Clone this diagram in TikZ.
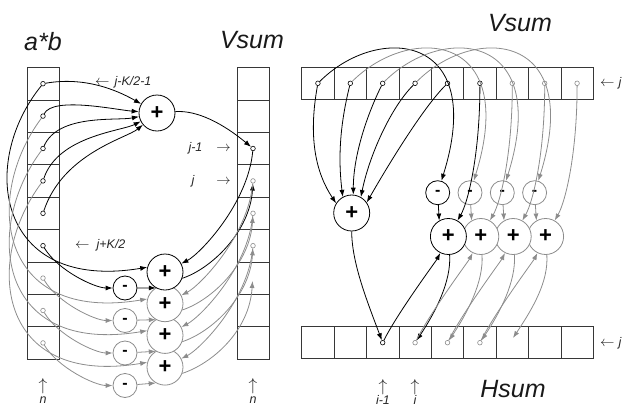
\documentclass[tikz,border=0pt]{standalone}
\usepackage{fontspec}
\setmainfont{Liberation Sans}
\usetikzlibrary{arrows.meta}
\definecolor{lgray}{RGB}{140,140,140}
\definecolor{boxc}{RGB}{55,55,55}
\newcommand{\larr}{{\fontsize{14}{14}\selectfont$\leftarrow$}}
\newcommand{\rarr}{{\fontsize{14}{14}\selectfont$\rightarrow$}}
\newcommand{\uarr}{{\fontsize{17}{17}\selectfont$\uparrow$}}
\tikzset{
  blk/.style={draw=black, line width=0.8pt, -{Latex[length=7pt,width=5pt]}},
  gry/.style={draw=lgray, line width=0.8pt, -{Latex[length=7pt,width=5pt]}},
  dotb/.style={circle, draw=black, fill=white, line width=0.6pt, inner sep=0pt, minimum size=4.6pt},
  dotg/.style={dotb, draw=lgray},
  plusb/.style={circle, draw=black, fill=white, line width=0.8pt, inner sep=0pt, minimum size=36pt, font=\fontsize{22}{22}\selectfont\bfseries},
  plusg/.style={plusb, draw=lgray},
  minusb/.style={circle, draw=black, fill=white, line width=0.8pt, inner sep=0pt, minimum size=24pt, font=\fontsize{16}{16}\selectfont\bfseries},
  minusg/.style={minusb, draw=lgray},
  lbl/.style={font=\fontsize{12.5}{14}\selectfont\itshape, text=black!85, inner sep=0pt},
  ttl/.style={font=\fontsize{25}{25}\selectfont\itshape, text=black!90, inner sep=0pt},
}

\begin{document}
\begin{tikzpicture}[x=1pt,y=-1pt]
\useasboundingbox (0,0) rectangle (630,410);

% a*b and Vsum columns
\foreach \x in {27,237}{
  \draw[boxc, line width=0.8pt] (\x,67.5) rectangle (\x+32,359.1);
  \foreach \k in {1,...,8}
    \draw[boxc, line width=0.8pt] (\x,67.5+32.4*\k) -- (\x+32,67.5+32.4*\k);
}
% Vsum and Hsum rows
\foreach \y in {67.3,326.7}{
  \draw[boxc, line width=0.8pt] (301.7,\y) rectangle (593.3,\y+32);
  \foreach \k in {1,...,8}
    \draw[boxc, line width=0.8pt] (301.7+32.4*\k,\y) -- (301.7+32.4*\k,\y+32);
}

% cells with values
\foreach \k in {1,...,6} \node[dotb] (ab\k) at (43,51.3+32.4*\k) {};
\foreach \k in {7,8,9} \node[dotg] (ab\k) at (43,51.3+32.4*\k) {};
\node[dotb] (vs3) at (253,148.5) {};
\foreach \k in {4,5,6} \node[dotg] (vs\k) at (253,51.3+32.4*\k) {};
\coordinate (vs7) at (252.5,281);
\foreach \k in {1,...,6} \node[dotb] (vr\k) at (285.5+32.4*\k,83.3) {};
\foreach \k in {7,8,9} \node[dotg] (vr\k) at (285.5+32.4*\k,83.3) {};
\node[dotb] (hs3) at (382.7,342.7) {};
\foreach \k in {4,5,6} \node[dotg] (hs\k) at (285.5+32.4*\k,342.7) {};
\coordinate (hs7) at (513,338);

% adders, left
\node[plusb] (ptop) at (157,113) {+};
\foreach \k in {4,3,2} \node[plusg] (pa\k) at (165,240.3+31.7*\k) {+};
\node[plusb] (pa1) at (165,272) {+};
\node[minusb] (ma1) at (125,288) {-};
\foreach \k in {2,3,4} \node[minusg] (ma\k) at (125,255.5+32.5*\k) {-};

% adders, right
\node[plusb] (pbig) at (351.7,213) {+};
\node[minusb] (mb1) at (437.7,192.7) {-};
\foreach \k in {2,3,4} \node[minusg] (mb\k) at (405.4+32.3*\k,192.7) {-};
\foreach \k in {4,3,2} \node[plusg] (pb\k) at (416+32.4*\k,236.5) {+};
\node[plusb] (pb1) at (448.4,236.5) {+};

% titles and labels
\node[ttl] (tab) at (43,42) {a*b};
\node[ttl] (tvl) at (252,40) {Vsum};
\node[ttl] (tvr) at (520,23) {Vsum};
\node[ttl] (ths) at (513,389) {Hsum};
\node[lbl, anchor=west] (lk1) at (95,82) {\larr\hspace{5pt}j-K/2-1};
\node[lbl, anchor=east] (lj1) at (231,148) {j-1\hspace{14pt}\rarr};
\node[lbl, anchor=east] (lj) at (231,181) {j\hspace{22pt}\rarr};
\node[lbl, anchor=west] (lk2) at (75,245) {\larr\hspace{7pt}j+K/2};
\node[lbl, align=center] (ln1) at (43,391) {\uarr\\[-1pt]n};
\node[lbl, align=center] (ln2) at (253,391) {\uarr\\[-1pt]n};
\node[lbl, anchor=west] (lj2) at (600,83) {\larr\hspace{4pt}j};
\node[lbl, anchor=west] (lj3) at (600,343) {\larr\hspace{4pt}j};
\node[lbl, align=center] (li1) at (383,392) {\uarr\\[-1pt]i-1};
\node[lbl, align=center] (li2) at (415,392) {\uarr\\[-1pt]i};

% left: first window sum
\draw[blk] (ab1) .. controls +(45,-8) and +(-35,-20) .. (ptop);
\draw[blk] (ab2) .. controls +(10,-20) and +(-40,-3) .. (ptop);
\draw[blk] (ab3) .. controls +(15,-35) and +(-40,8) .. (ptop);
\draw[blk] (ab4) .. controls +(15,-45) and +(-35,18) .. (ptop);
\draw[blk] (ab5) .. controls +(20,-60) and +(-30,25) .. (ptop);
\draw[blk] (ptop) .. controls +(40,-3) and +(-30,-25) .. (vs3);
% left: running sum
\draw[blk] (ab1) .. controls +(-65,80) and +(-150,25) .. (pa1.165);
\draw[blk] (ab6) .. controls +(15,25) and +(-30,0) .. (ma1);
\draw[blk] (ma1) -- (pa1.240);
\draw[blk] (vs3) .. controls +(-5,55) and +(35,-18) .. (pa1);
\draw[blk] (pa1.-20) .. controls +(30,-10) and +(-3,50) .. (vs4);
\foreach \k/\a/\v/\w in {2/7/4/5, 3/8/5/6, 4/9/6/7}{
  \draw[gry] (ab\k) .. controls +(-60,80) and +(-150,25) .. (pa\k.165);
  \draw[gry] (ab\a) .. controls +(15,25) and +(-30,0) .. (ma\k);
  \draw[gry] (ma\k) -- (pa\k.240);
  \draw[gry] (vs\v) .. controls +(-5,55) and +(35,-18) .. (pa\k);
  \draw[gry] (pa\k.-20) .. controls +(30,-10) and +(-3,50) .. (vs\w);
}

% right: first window sum
\draw[blk] (vr1) .. controls +(-10,55) and +(-20,-30) .. (pbig.148);
\draw[blk] (vr2) .. controls +(-10,40) and +(-5,-40) .. (pbig.119);
\draw[blk] (vr3) .. controls +(-15,30) and +(0,-40) .. (pbig.85);
\draw[blk] (vr4) .. controls +(-25,25) and +(8,-40) .. (pbig.60);
\draw[blk] (vr5) .. controls +(-25,25) and +(20,-35) .. (pbig.35);
\draw[blk] (pbig) .. controls +(0,50) and +(-15,-40) .. (hs3);
% right: running sum
\draw[blk] (vr1) .. controls +(60,-60) and +(50,-160) .. (mb1);
\draw[blk] (vr6) .. controls +(0,70) and +(20,-35) .. (pb1);
\draw[blk] (mb1) -- (pb1.120);
\draw[blk] (hs3) .. controls +(15,-30) and +(-12,24) .. (pb1);
\draw[blk] (pb1) .. controls +(3,45) and +(20,-30) .. (hs4);
\foreach \k/\r/\h/\g in {2/7/4/5, 3/8/5/6, 4/9/6/7}{
  \draw[gry] (vr\k) .. controls +(60,-60) and +(50,-160) .. (mb\k);
  \draw[gry] (vr\r) .. controls +(0,70) and +(20,-35) .. (pb\k);
  \draw[gry] (mb\k) -- (pb\k.120);
  \draw[gry] (hs\h) .. controls +(15,-30) and +(-12,24) .. (pb\k);
  \draw[gry] (pb\k) .. controls +(3,45) and +(20,-30) .. (hs\g);
}
\end{tikzpicture}
\end{document}
